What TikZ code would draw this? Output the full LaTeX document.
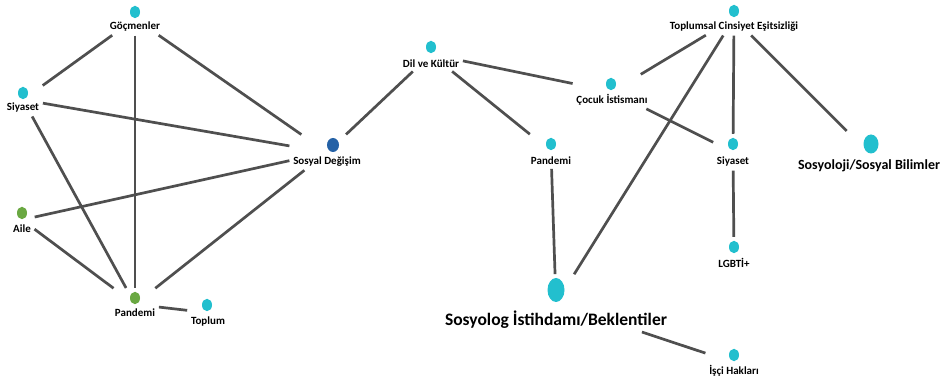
\documentclass[tikz,border=0pt]{standalone}
\usepackage{fontspec}
\setmainfont{Carlito}
\usetikzlibrary{shapes.geometric,fit}
\definecolor{cyanD}{HTML}{22BFCE}
\definecolor{greenD}{HTML}{6AA842}
\definecolor{blueD}{HTML}{2461A6}
\definecolor{edgeC}{HTML}{4F4F4F}
\tikzset{
  dotc/.style={ellipse,fill=cyanD,minimum width=10pt,minimum height=12.5pt,inner sep=0pt},
  dotg/.style={dotc,fill=greenD},
  dotb/.style={dotc,fill=blueD,minimum width=12pt,minimum height=14pt},
  dotm/.style={dotc,minimum width=15pt,minimum height=19pt},
  dotl/.style={dotc,minimum width=17pt,minimum height=24pt},
  lbl/.style={inner sep=0pt,font=\bfseries\fontsize{11}{12}\selectfont},
  lblm/.style={inner sep=0pt,font=\bfseries\fontsize{14}{16}\selectfont},
  lbll/.style={inner sep=0pt,font=\bfseries\fontsize{17.5}{20}\selectfont},
  grp/.style={inner sep=2.5pt,draw=none},
  edge/.style={draw=edgeC,line width=2.7pt,shorten <=1pt,shorten >=1pt}
}
\begin{document}
\begin{tikzpicture}[x=1pt,y=-1pt]
\path[use as bounding box,fill=white] (0,0) rectangle (946,382);
% left cluster
\node[dotc] (d1) at (135,12) {};
\node[lbl] (l1) at (135,27) {Göçmenler};
\node[grp,fit=(d1)(l1)] (goc) {};
\node[dotc] (d2) at (23,93) {};
\node[lbl] (l2) at (23,108) {Siyaset};
\node[grp,fit=(d2)(l2)] (siyL) {};
\node[dotb] (d3) at (333,145) {};
\node[lbl] (l3) at (327,162) {Sosyal Değişim};
\node[grp,fit=(d3)(l3)] (sos) {};
\node[dotg] (d4) at (22,213) {};
\node[lbl] (l4) at (22,229) {Aile};
\node[grp,fit=(d4)(l4)] (aile) {};
\node[dotg] (d5) at (135,298) {};
\node[lbl] (l5) at (135,313) {Pandemi};
\node[grp,fit=(d5)(l5)] (panL) {};
\node[dotc] (d6) at (207,305) {};
\node[lbl] (l6) at (208,322) {Toplum};
\node[grp,fit=(d6)(l6)] (top) {};
% middle
\node[dotc] (d7) at (431,47) {};
\node[lbl] (l7) at (431,64) {Dil ve Kültür};
\node[grp,fit=(d7)(l7)] (dil) {};
\node[dotc] (d8) at (611,84) {};
\node[lbl] (l8) at (612,100) {Çocuk İstismanı};
\node[grp,fit=(d8)(l8)] (coc) {};
\node[dotc] (d9) at (551,144) {};
\node[lbl] (l9) at (551,161) {Pandemi};
\node[grp,fit=(d9)(l9)] (panM) {};
\node[dotl] (d10) at (556,290) {};
\node[lbll] (l10) at (556,320) {Sosyolog İstihdamı/Beklentiler};
\node[grp,fit=(d10)(l10)] (ist) {};
% right
\node[dotc] (d11) at (734,11) {};
\node[lbl] (l11) at (734,27) {Toplumsal Cinsiyet Eşitsizliği};
\node[grp,fit=(d11)(l11)] (tce) {};
\node[dotc] (d12) at (733,144) {};
\node[lbl] (l12) at (733,162) {Siyaset};
\node[grp,fit=(d12)(l12)] (siyR) {};
\node[dotm] (d13) at (871,144) {};
\node[lblm] (l13) at (869,166) {Sosyoloji/Sosyal Bilimler};
\node[grp,fit=(d13)(l13)] (sbil) {};
\node[dotc] (d14) at (734,247) {};
\node[lbl] (l14) at (734,263) {LGBTİ+};
\node[grp,fit=(d14)(l14)] (lgbt) {};
\node[dotc] (d15) at (734,355) {};
\node[lbl] (l15) at (734,371) {İşçi Hakları};
\node[grp,fit=(d15)(l15)] (isci) {};
% edges
\draw[edge] (goc) -- (siyL);
\draw[edge] (goc) -- (panL);
\draw[edge] (goc) -- (sos);
\draw[edge] (siyL) -- (sos);
\draw[edge] (siyL) -- (panL);
\draw[edge] (aile) -- (sos);
\draw[edge] (aile) -- (panL);
\draw[edge] (sos) -- (panL);
\draw[edge] (panL) -- (top);
\draw[edge] (sos) -- (dil);
\draw[edge] (dil) -- (coc);
\draw[edge] (dil) -- (panM);
\draw[edge] (panM) -- (ist);
\draw[edge] (coc) -- (tce);
\draw[edge] (coc) -- (siyR);
\draw[edge] (tce) -- (ist);
\draw[edge] (tce) -- (siyR);
\draw[edge] (tce) -- (sbil);
\draw[edge] (siyR) -- (lgbt);
\draw[edge] (ist) -- (isci);
\end{tikzpicture}
\end{document}
